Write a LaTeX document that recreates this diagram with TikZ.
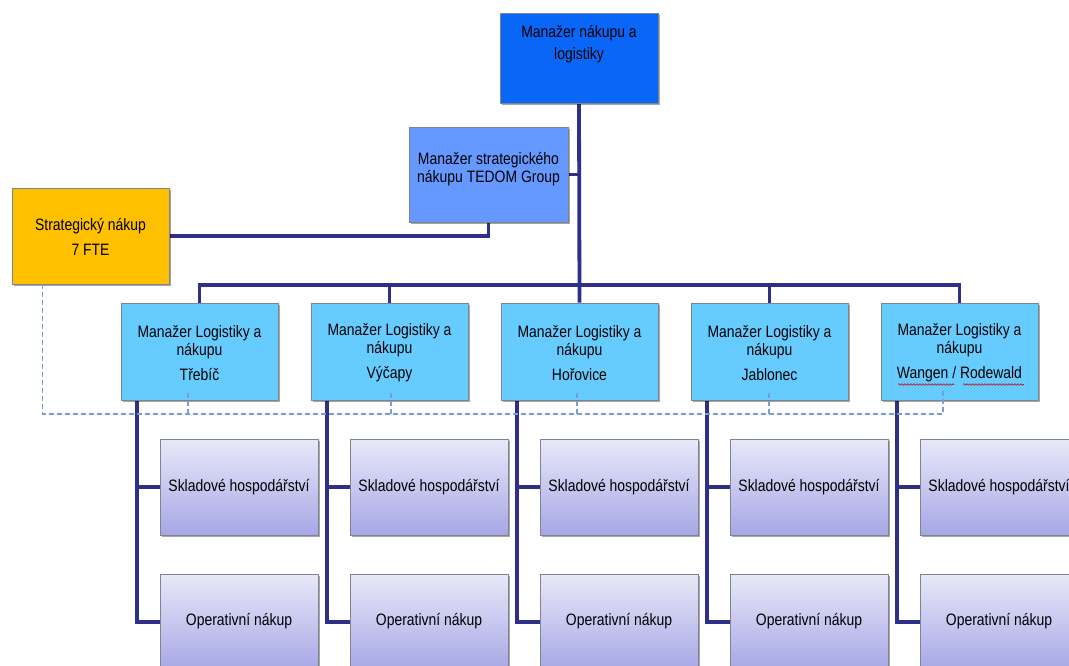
\documentclass[tikz,border=0pt]{standalone}
\usepackage{fontspec}
\setmainfont{Liberation Sans}[FakeStretch=0.845]
\usetikzlibrary{shadows,calc,decorations.pathmorphing}
\pgfdeclarelayer{background}
\pgfsetlayers{background,main}
\definecolor{topblue}{HTML}{0A66F7}
\definecolor{smgrblue}{HTML}{6699FF}
\definecolor{stratyel}{HTML}{FFC000}
\definecolor{mgrblue}{HTML}{66CCFF}
\definecolor{subtop}{HTML}{E8E8F9}
\definecolor{subbot}{HTML}{A7A7E6}
\definecolor{conn}{HTML}{2E2F88}
\definecolor{dashc}{HTML}{779FD6}
\definecolor{boxline}{HTML}{7F8590}
\begin{document}
\begin{tikzpicture}[x=1pt,y=-1pt,
  box/.style={draw=boxline, line width=0.8pt, inner sep=0pt,
    drop shadow={shadow xshift=1.5pt, shadow yshift=-1.8pt, opacity=0.35, fill=black}},
  mgrbox/.style={box, fill=mgrblue, minimum width=157pt, minimum height=97pt},
  subbox/.style={box, top color=subtop, bottom color=subbot, minimum width=158pt, minimum height=96pt},
  txt/.style={font=\fontsize{16.5}{18}\selectfont, align=center, inner sep=0pt, text=black},
  connector/.style={draw=conn, line width=3.8pt},
  dotline/.style={draw=dashc, line width=1.4pt, dash pattern=on 5pt off 3pt},
  wavy/.style={draw=red!80!black, line width=0.6pt, decorate, decoration={snake, amplitude=0.8pt, segment length=3pt}}
]
\useasboundingbox (0,0) rectangle (1069,666);
\clip (0,0) rectangle (1069,666);

% boxes
\node[box, fill=topblue, minimum width=158pt, minimum height=90pt] (top) at (579,58) {};
\node[box, fill=smgrblue, minimum width=159pt, minimum height=95pt] (smgr) at (488.5,174.5) {};
\node[box, fill=stratyel, minimum width=157pt, minimum height=96pt] (strat) at (90.5,236) {};

\foreach \i/\x in {1/199.5, 2/389.5, 3/579.5, 4/769.5, 5/959.5} {
  \node[mgrbox] (m\i) at (\x,351.5) {};
  \node[subbox] (s\i) at (\x+39.5,487) {};
  \node[subbox] (o\i) at (\x+39.5,622) {};
  \node[txt] (ts\i) at (\x+39.5,487) {Skladové hospodářství};
  \node[txt] (to\i) at (\x+39.5,621) {Operativní nákup};
  \coordinate (sp\i) at ($(m\i.south west)+(16,0)$);
}

% texts
\node[txt] (ttop) at (579,44.5) {Manažer nákupu a\\[4pt]logistiky};
\node[txt] (tsmgr) at (488.5,169.5) {Manažer strategického\\nákupu TEDOM Group};
\node[txt] (tstrat) at (90.5,237) {Strategický nákup\\[7pt]7 FTE};
\node[txt] (tm1) at (199.5,353) {Manažer Logistiky a\\nákupu\\[7pt]Třebíč};
\node[txt] (tm2) at (389.5,353) {Manažer Logistiky a\\nákupu\\[7pt]Výčapy};
\node[txt] (tm3) at (579.5,353) {Manažer Logistiky a\\nákupu\\[7pt]Hořovice};
\node[txt] (tm4) at (769.5,353) {Manažer Logistiky a\\nákupu\\[7pt]Jablonec};
\node[txt] (tm5) at (959.5,353) {Manažer Logistiky a\\nákupu\\[7pt]Wangen / Rodewald};

% spell-check underlines
\draw[wavy] (898,384.5) -- (954,384.5);
\draw[wavy] (963,384.5) -- (1024,384.5);

% solid connectors
\begin{pgfonlayer}{background}
\coordinate (bus) at (579,285);
\draw[connector] (top.south) -- (m3.north);
\draw[connector] (smgr.east) -- (smgr.east -| top.south);
\draw[connector] (strat.east) -| (smgr.south);
\draw[connector] (m1.north) |- (bus);
\draw[connector] (m5.north) |- (bus);
\draw[connector] (m2.north) -- (m2.north |- bus);
\draw[connector] (m4.north) -- (m4.north |- bus);
\foreach \i in {1,...,5} {
  \draw[connector] (sp\i) |- (o\i.west);
  \draw[connector] (s\i.west) -- (s\i.west -| sp\i);
}
\end{pgfonlayer}

% dashed relation lines
\coordinate (d0) at ($(strat.south west)+(31,0)$);
\coordinate (dend) at (943,414);
\draw[dotline] (d0) |- (dend) -- (dend |- m5.south) -- ++(0,-9);
\foreach \x in {188,391,577,769} {
  \draw[dotline] (\x,414) -- (\x,391);
}
\end{tikzpicture}
\end{document}
